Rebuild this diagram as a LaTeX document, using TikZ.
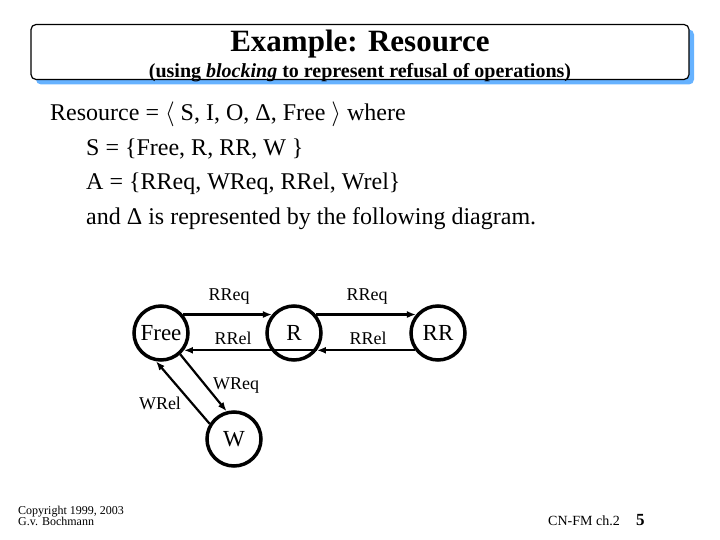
\documentclass[tikz,border=0pt]{standalone}
\usepackage{fontspec}
\setmainfont{Liberation Serif}
\usetikzlibrary{arrows.meta,shadows}

\begin{document}
\begin{tikzpicture}[x=1pt,y=-1pt,>={Latex[length=9pt,width=7pt]},
  state/.style={draw,circle,line width=3.5pt,minimum size=54pt,inner sep=0pt,font=\fontsize{23}{23}\selectfont},
  trans/.style={line width=2.2pt,->},
  lbl/.style={font=\fontsize{18}{18}\selectfont,inner sep=1pt},
  body/.style={anchor=base west,font=\fontsize{24}{24}\selectfont,inner sep=0pt}]
\useasboundingbox (0,0) rectangle (720,540);
% title box
\node[draw,line width=1.2pt,rounded corners=5pt,fill=white,minimum width=658pt,minimum height=55pt,
  drop shadow={fill=blue!50!cyan!60!white,opacity=1,shadow xshift=5pt,shadow yshift=-5pt}] (title) at (360,52) {};
\node[font=\fontsize{31}{31}\selectfont\bfseries] (head) at (360,44) {Example: Resource};
\node[font=\fontsize{20}{20}\selectfont\bfseries] (sub) at (360,73) {(using \textit{blocking} to represent refusal of operations)};
% text
\node[body] (l1) at (50,121) {Resource = $\langle$ S, I, O, Δ, Free $\rangle$ where};
\node[body] (l2) at (86,156) {S = \{Free, R, RR, W \}};
\node[body] (l3) at (86,190) {A = \{RReq, WReq, RRel, Wrel\}};
\node[body] (l4) at (86,225) {and Δ is represented by the following diagram.};
% states
\node[state] (free) at (161,333) {Free};
\node[state] (r) at (294,333) {R};
\node[state] (rr) at (438,333) {RR};
\node[state] (w) at (234,439) {W};
% transitions
\draw[trans] (free.40) -- (r.140);
\draw[trans] (r.40) -- (rr.140);
\draw[trans] (r.-37) -- (free.-37);
\draw[trans] (rr.-143) -- (r.-37);
\draw[trans] (free.-48) -- (w.105);
\draw[trans] (w.148) -- (free.-100);
\node[lbl] (rreq1) at (229,297) {RReq};
\node[lbl] (rreq2) at (367,297) {RReq};
\node[lbl] (rrel1) at (233,338) {RRel};
\node[lbl] (rrel2) at (368,338) {RRel};
\node[lbl] (wreq) at (236,386) {WReq};
\node[lbl] (wrel) at (160,403) {WRel};
% footer
\node[anchor=north west,align=left,font=\fontsize{12}{11}\selectfont,inner sep=0pt] (copy) at (18,506) {Copyright 1999, 2003\\G.v. Bochmann};
\node[anchor=base west,font=\fontsize{14}{14}\selectfont,inner sep=0pt] (chap) at (548,525) {CN-FM ch.2};
\node[anchor=base west,font=\fontsize{17}{17}\selectfont\bfseries,inner sep=0pt] (page) at (636,525) {5};
\end{tikzpicture}
\end{document}
